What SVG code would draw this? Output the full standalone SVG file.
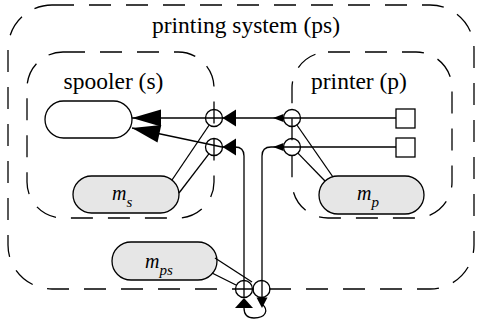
<svg xmlns="http://www.w3.org/2000/svg" width="480" height="320" viewBox="0 0 480 320">
<style>
.bd{fill:none;stroke:#000;stroke-width:1.3;stroke-dasharray:22 15}
.lbl{font-family:"Liberation Serif","Times New Roman",serif;font-size:23.5px;fill:#000;text-anchor:middle}
.pill{fill:#fff;stroke:#000;stroke-width:1.3}
.mp{fill:#e6e6e6;stroke:#000;stroke-width:1.3}
.mt{font-family:"Liberation Serif","Times New Roman",serif;font-style:italic;font-size:20px;fill:#000}
.sub{font-size:15px}
.port{fill:none;stroke:#000;stroke-width:1.3}
.sq{fill:#fff;stroke:#000;stroke-width:1.3}
.ln{fill:none;stroke:#000;stroke-width:1.3}
.ah{fill:#000;stroke:none}
</style>
<rect width="480" height="320" fill="#fff"/>
<g id="ps">
<rect class="bd" x="8" y="5" width="466" height="284" rx="44" ry="44"/>
<text class="lbl" x="246" y="33">printing system (ps)</text>
</g>
<g id="s">
<rect class="bd" x="27" y="52" width="187" height="166" rx="36" ry="36"/>
<text class="lbl" x="113.5" y="89">spooler (s)</text>
</g>
<g id="p">
<rect class="bd" x="292" y="52" width="160" height="166" rx="36" ry="36"/>
<text class="lbl" x="359" y="89">printer (p)</text>
</g>
<g id="s-main"><rect class="pill" x="45" y="101" width="87" height="37" rx="18.5"/></g>
<g id="m_s"><rect class="mp" x="73" y="176" width="106" height="37" rx="18.5"/>
<text class="mt" x="112" y="200">m<tspan class="sub" dy="7">s</tspan></text></g>
<g id="m_p"><rect class="mp" x="319" y="176" width="105" height="38" rx="19"/>
<text class="mt" x="357" y="200">m<tspan class="sub" dy="7">p</tspan></text></g>
<g id="m_ps"><rect class="mp" x="112" y="242" width="105" height="38" rx="19"/>
<text class="mt" x="145" y="268">m<tspan class="sub" dy="7">ps</tspan></text></g>
<g id="dev1"><rect class="sq" x="396" y="109" width="19" height="19"/></g>
<g id="dev2"><rect class="sq" x="396" y="138" width="19" height="19"/></g>
<g id="ports">
<circle class="port" cx="214" cy="118" r="8.5"/>
<circle class="port" cx="214" cy="147" r="8.5"/>
<circle class="port" cx="292" cy="118" r="8.5"/>
<circle class="port" cx="292" cy="147" r="8.5"/>
<circle class="port" cx="244" cy="289" r="8.5"/>
<circle class="port" cx="261.5" cy="289" r="8.5"/>
</g>
<g id="connectors">
<line class="ln" x1="132" y1="118" x2="396" y2="118"/>
<line class="ln" x1="132" y1="128" x2="222" y2="147"/>
<path class="ln" d="M396,147 H271 Q262,147 262,156 V298"/>
<path class="ln" d="M222,147 H235 Q244,147 244,156 V298"/>
<line class="ln" x1="209.2" y1="125" x2="172" y2="180"/>
<line class="ln" x1="208.9" y1="153.8" x2="179" y2="193"/>
<line class="ln" x1="296.9" y1="125" x2="333" y2="177"/>
<line class="ln" x1="297.9" y1="153.1" x2="325" y2="181"/>
<line class="ln" x1="215" y1="258" x2="252" y2="282"/>
<line class="ln" x1="212" y1="273" x2="236" y2="285"/>
<path class="ln" d="M262,304 C269,310 266,318 254,318 C247,318 244,314 244,308"/>
<polygon class="ah" points="132,118 161,109.5 161,126.5"/>
<polygon class="ah" points="132,128 157.5,142.6 161.3,125"/>
<polygon class="ah" points="222.5,118 236,109.5 236,126.5"/>
<polygon class="ah" points="222.5,147 236,138.5 236,155.5"/>
<polygon class="ah" points="273,118 283.5,114 283.5,122"/>
<polygon class="ah" points="273,147 283.5,143 283.5,151"/>
<polygon class="ah" points="244,298 235,308 253,308"/>
<polygon class="ah" points="256.5,297.5 267.5,297.5 262,308"/>
</g>
</svg>
